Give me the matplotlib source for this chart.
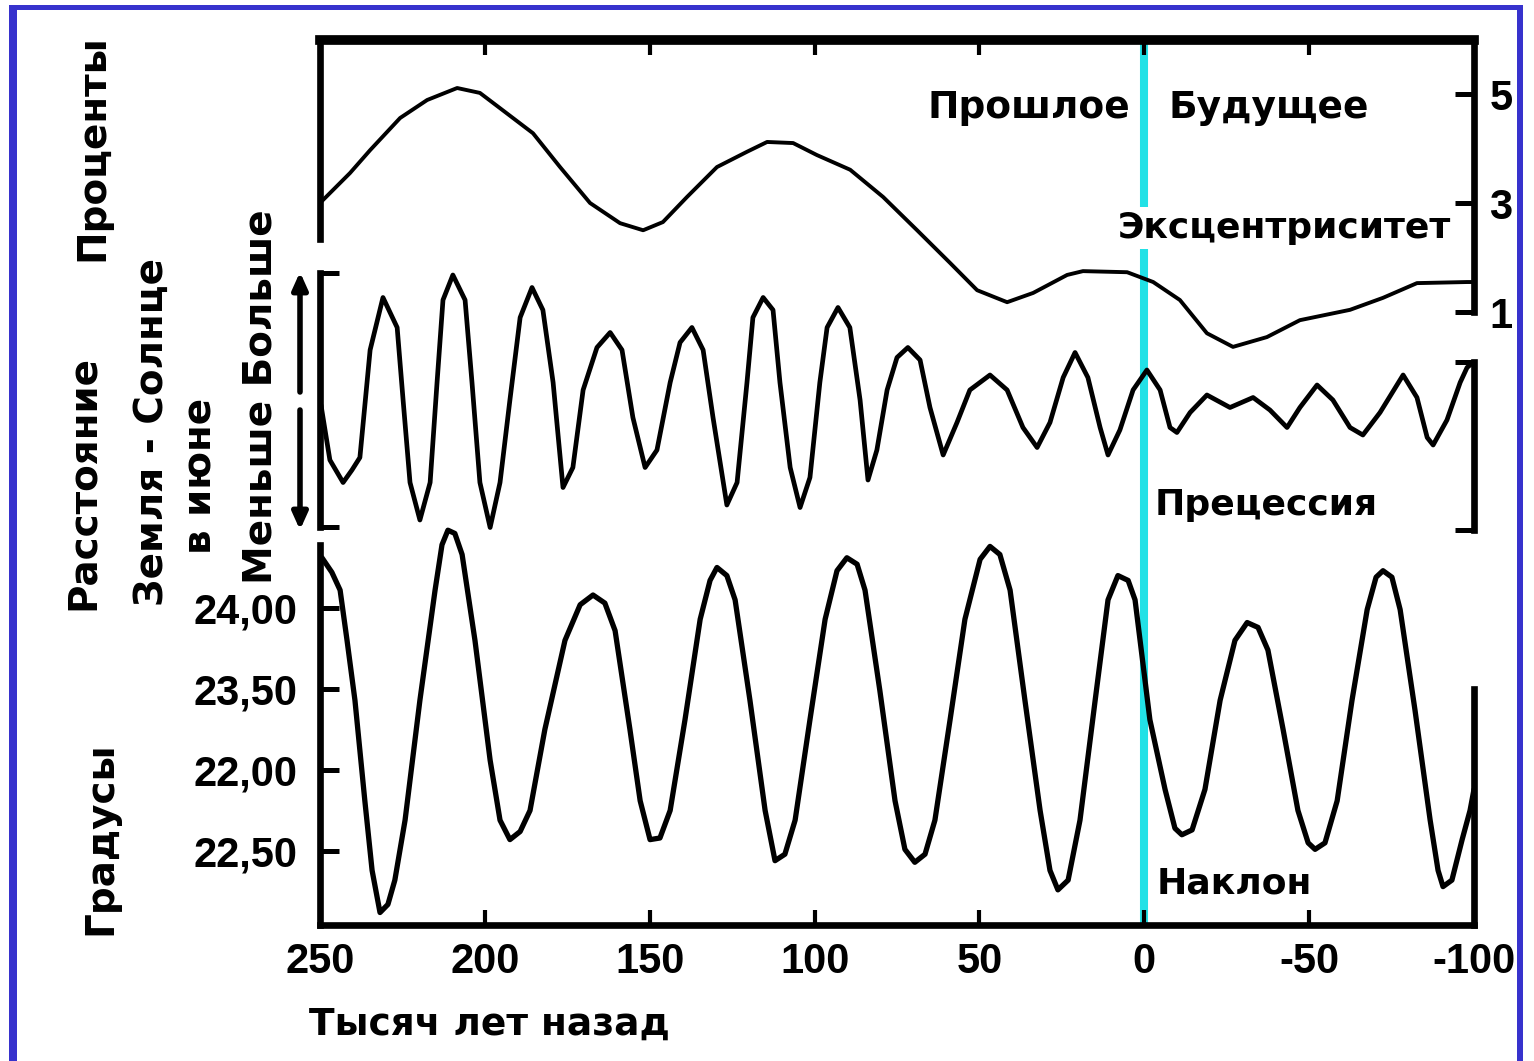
import matplotlib
matplotlib.use("Agg")
import matplotlib.pyplot as plt
from matplotlib.patches import Rectangle

# Milankovitch cycles, thousands of years before present (negative = future)

# Eccentricity, percent
ecc_t = [250, 240.9, 234.8, 225.7, 217.5, 208.4, 201.5, 195.4, 185.4, 177.2, 168.1, 159.0,
         152.0, 146.0, 138.7, 129.6, 120.5, 114.4, 106.5, 99.3, 89.2, 79.2, 68.9, 58.9,
         50.7, 41.6, 33.7, 23.4, 18.6, 5.2, -2.7, -10.8, -19.0, -26.9, -37.2, -47.2,
         -62.4, -72.4, -82.7, -97.9, -100]
ecc_v = [3.0, 3.55, 3.97, 4.56, 4.89, 5.11, 5.02, 4.74, 4.28, 3.66, 3.0, 2.63,
         2.50, 2.65, 3.11, 3.66, 3.94, 4.12, 4.10, 3.88, 3.61, 3.11, 2.50, 1.90,
         1.40, 1.18, 1.35, 1.68, 1.75, 1.73, 1.55, 1.22, 0.61, 0.36, 0.54, 0.85,
         1.04, 1.26, 1.53, 1.55, 1.55]

# Precession index (relative units)
prec_t = [249.7, 247.0, 243.0, 240.3, 237.9, 234.8, 230.9, 226.6, 224.8, 222.7, 219.7, 216.6,
          214.5, 212.7, 209.7, 206.0, 203.9, 201.5, 198.4, 195.4, 192.4, 189.3, 185.7, 182.4,
          179.3, 176.3, 173.3, 170.2, 166.0, 162.0, 158.4, 155.1, 151.4, 147.8, 143.8, 140.8,
          137.2, 133.8, 130.8, 126.6, 123.5, 120.5, 118.7, 115.6, 112.6, 110.5, 107.4, 104.4,
          101.4, 98.4, 96.2, 92.9, 89.3, 86.2, 83.8, 81.1, 78.0, 75.0, 71.7, 68.0,
          65.0, 61.0, 56.8, 52.9, 46.8, 41.6, 36.8, 32.5, 28.6, 24.6, 21.0, 17.1,
          13.4, 11.0, 7.4, 3.4, -0.8, -4.8, -7.8, -9.9, -13.9, -19.0, -26.0, -33.0,
          -38.1, -43.3, -47.2, -52.4, -57.2, -62.4, -66.3, -71.5, -78.5, -82.7, -85.8, -87.6,
          -91.8, -95.8, -97.9, -99.7]
prec_v = [-0.04, -0.48, -0.66, -0.56, -0.46, 0.40, 0.82, 0.58, 0.0, -0.66, -0.96, -0.66,
          0.14, 0.80, 1.0, 0.80, 0.14, -0.66, -1.02, -0.66, 0.0, 0.66, 0.90, 0.72,
          0.14, -0.70, -0.54, 0.08, 0.42, 0.54, 0.40, -0.14, -0.54, -0.40, 0.14, 0.46,
          0.58, 0.40, -0.14, -0.84, -0.66, 0.14, 0.66, 0.82, 0.72, 0.14, -0.54, -0.86,
          -0.62, 0.14, 0.58, 0.74, 0.58, 0.0, -0.64, -0.40, 0.08, 0.34, 0.42, 0.32,
          -0.06, -0.44, -0.18, 0.08, 0.20, 0.08, -0.22, -0.38, -0.18, 0.18, 0.38, 0.18,
          -0.22, -0.44, -0.24, 0.08, 0.24, 0.08, -0.22, -0.26, -0.10, 0.04, -0.06, 0.02,
          -0.08, -0.22, -0.06, 0.12, 0.0, -0.22, -0.28, -0.10, 0.20, 0.02, -0.30, -0.36,
          -0.16, 0.14, 0.26, 0.30]

# Obliquity, degrees
obl_t = [249.4, 246.4, 243.9, 241.8, 239.4, 236.4, 234.2, 231.8, 229.4, 227.3, 224.2, 219.7,
         215.1, 213.0, 211.2, 209.1, 206.9, 203.0, 198.4, 195.4, 192.4, 189.3, 186.3, 181.8,
         175.7, 171.1, 167.2, 163.6, 160.5, 156.0, 152.9, 149.9, 146.9, 143.8, 139.3, 134.7,
         131.7, 129.6, 126.6, 124.1, 119.6, 115.0, 112.0, 109.0, 105.9, 101.4, 96.8, 93.2,
         90.2, 87.1, 84.7, 80.2, 75.6, 72.6, 69.6, 66.5, 63.5, 58.9, 54.4, 49.8,
         46.8, 43.8, 40.7, 36.2, 31.6, 28.6, 26.2, 23.1, 19.5, 14.9, 11.0, 8.0,
         4.9, 2.8, -1.7, -6.3, -9.3, -11.4, -14.5, -18.4, -23.0, -27.5, -31.2, -34.5,
         -37.5, -42.1, -46.6, -49.7, -51.8, -54.8, -58.5, -63.0, -67.6, -70.3, -72.4, -75.1,
         -77.6, -82.1, -86.7, -89.1, -90.6, -93.3, -96.4, -98.8, -100.0]
obl_v = [24.31, 24.22, 24.11, 23.80, 23.43, 22.81, 22.38, 22.12, 22.17, 22.32, 22.69, 23.43,
         24.11, 24.39, 24.48, 24.46, 24.33, 23.80, 23.06, 22.69, 22.57, 22.62, 22.75, 23.25,
         23.80, 24.02, 24.08, 24.03, 23.86, 23.25, 22.81, 22.57, 22.58, 22.75, 23.31, 23.93,
         24.17, 24.25, 24.20, 24.05, 23.43, 22.75, 22.44, 22.48, 22.69, 23.31, 23.93, 24.23,
         24.31, 24.27, 24.11, 23.49, 22.81, 22.51, 22.43, 22.48, 22.69, 23.31, 23.93, 24.30,
         24.38, 24.33, 24.11, 23.43, 22.75, 22.38, 22.26, 22.32, 22.69, 23.43, 24.05, 24.20,
         24.17, 24.05, 23.31, 22.88, 22.64, 22.60, 22.63, 22.88, 23.43, 23.80, 23.91, 23.88,
         23.74, 23.25, 22.75, 22.55, 22.51, 22.55, 22.81, 23.43, 23.99, 24.19, 24.23, 24.19,
         23.99, 23.37, 22.69, 22.38, 22.28, 22.32, 22.57, 22.75, 22.88]

x_ticks = [250, 200, 150, 100, 50, 0, -50, -100]
x_labels = ["250", "200", "150", "100", "50", "0", "-50", "-100"]
ecc_ticks = [5, 3, 1]
ecc_labels = ["5", "3", "1"]
obl_ticks = [24.0, 23.5, 23.0, 22.5]
obl_labels = ["24,00", "23,50", "22,00", "22,50"]

plt.rcParams['font.family'] = ['Liberation Sans', 'DejaVu Sans']
plt.rcParams['font.weight'] = 'bold'

W, H = 1534, 1061
fig = plt.figure(figsize=(W / 100, H / 100), dpi=100)
fig.patch.set_facecolor('white')

L, R, T, B = 320, 1474, 40, 925
rect = [L / W, 1 - B / H, (R - L) / W, (B - T) / H]

def px(x, y):
    return x / W, 1 - y / H

tick_font = dict(family=['Liberation Sans', 'DejaVu Sans'], weight='bold', size=30)
lab_font = ['DejaVu Sans']
line_kw = dict(color='black', solid_joinstyle='round', solid_capstyle='round')

# main axes: x axis, frame top/bottom, the "now" line
ax = fig.add_axes(rect)
ax.set_xlim(250, -100)
ax.set_ylim(0, 1)
ax.set_yticks([])
for s in ['left', 'right']:
    ax.spines[s].set_visible(False)
ax.spines['top'].set_linewidth(7)
ax.spines['bottom'].set_linewidth(4.8)
ax.set_xticks(x_ticks)
ax.set_xticklabels(x_labels, fontdict=tick_font)
ax.tick_params(axis='x', direction='in', top=True, bottom=True, length=10.5, width=3, pad=12)
ax.axvline(0, color='#22E1E6', lw=5.8, zorder=1)


def overlay(ylim):
    a = fig.add_axes(rect, sharex=ax)
    a.set_facecolor('none')
    a.set_ylim(*ylim)
    a.spines['top'].set_visible(False)
    a.spines['bottom'].set_visible(False)
    a.spines['left'].set_linewidth(4.8)
    a.spines['right'].set_linewidth(4.8)
    a.tick_params(axis='x', which='both', bottom=False, top=False, labelbottom=False)
    a.tick_params(axis='y', which='both', direction='in', length=14, width=3.6)
    return a


# eccentricity
ax_e = overlay((-10.248, 5.991))
ax_e.plot(ecc_t, ecc_v, lw=2.8, **line_kw)
ax_e.spines['left'].set_bounds(2.34, 5.991)
ax_e.spines['right'].set_bounds(1.0, 5.991)
ax_e.set_yticks(ecc_ticks)
ax_e.set_yticklabels(ecc_labels, fontdict=tick_font)
ax_e.set_yticks([5], minor=True)
ax_e.tick_params(axis='y', which='major', left=False, right=True, labelleft=False, labelright=True, pad=11)
ax_e.tick_params(axis='y', which='minor', left=True, right=False)

# precession
ax_p = overlay((-4.2, 2.88))
ax_p.plot(prec_t, prec_v, lw=3.4, **line_kw)
ax_p.spines['left'].set_bounds(-1.016, 1.016)
ax_p.spines['right'].set_bounds(-1.04, 0.304)
ax_p.set_yticks([-1.016, 1.016])
ax_p.set_yticks([-1.04, 0.304], minor=True)
ax_p.tick_params(axis='y', which='major', left=True, right=False, labelleft=False)
ax_p.tick_params(axis='y', which='minor', left=False, right=True)

# obliquity
ax_o = overlay((22.043, 27.506))
ax_o.plot(obl_t, obl_v, lw=3.8, **line_kw)
ax_o.spines['left'].set_bounds(22.043, 24.389)
ax_o.spines['right'].set_bounds(22.043, 23.5)
ax_o.set_yticks(obl_ticks)
ax_o.set_yticklabels(obl_labels, fontdict=tick_font)
ax_o.set_yticks([23.5, 23.0], minor=True)
ax_o.tick_params(axis='y', which='major', left=True, right=False, labelleft=True, pad=16)
ax_o.tick_params(axis='y', which='minor', left=False, right=True)

# texts inside the plot
fig.text(*px(1130, 108), "Прошлое", family=lab_font, weight='bold', size=27, ha='right', va='center')
fig.text(*px(1168, 108), "Будущее", family=lab_font, weight='bold', size=27, ha='left', va='center')
fig.text(*px(1284, 228), "Эксцентриситет", family=lab_font, weight='bold', size=26, ha='center', va='center',
         bbox=dict(facecolor='white', edgecolor='none', pad=3))
fig.text(*px(1155, 505), "Прецессия", family=lab_font, weight='bold', size=26, ha='left', va='center')
fig.text(*px(1157, 884), "Наклон", family=lab_font, weight='bold', size=26, ha='left', va='center')

# axis titles on the left
fig.text(*px(92, 148), "Проценты", family=lab_font, weight='bold', size=28, rotation=90, ha='center', va='center')
fig.text(*px(83, 483), "Расстояние", family=lab_font, weight='bold', size=28, rotation=90, ha='center', va='center')
fig.text(*px(152, 432), "Земля - Солнце", family=lab_font, weight='bold', size=28, rotation=90, ha='center', va='center')
fig.text(*px(200, 476), "в июне", family=lab_font, weight='bold', size=28, rotation=90, ha='center', va='center')
fig.text(*px(260, 397), "Меньше Больше", family=lab_font, weight='bold', size=28, rotation=90, ha='center', va='center')
fig.text(*px(100, 838), "Градусы", family=lab_font, weight='bold', size=28, rotation=90, ha='center', va='center')
fig.text(*px(489, 1025), "Тысяч лет назад", family=lab_font, weight='bold', size=27, ha='center', va='center')

# double arrow: closer / farther
arrow = dict(arrowstyle='-|>,head_width=0.45,head_length=1.0', lw=4, color='black', shrinkA=0, shrinkB=0)
ax.annotate("", xy=(300, H - 272), xytext=(300, H - 392), xycoords='figure pixels',
            textcoords='figure pixels', arrowprops=arrow, annotation_clip=False)
ax.annotate("", xy=(300, H - 530), xytext=(300, H - 410), xycoords='figure pixels',
            textcoords='figure pixels', arrowprops=arrow, annotation_clip=False)

# blue slide frame
blue = '#3732CD'
for x0, y0, x1, y1 in [(9, 5, 17, 1061), (9, 5, 1523, 10), (1517, 5, 1523, 1061)]:
    fig.add_artist(Rectangle((x0 / W, 1 - y1 / H), (x1 - x0) / W, (y1 - y0) / H,
                             transform=fig.transFigure, facecolor=blue, edgecolor='none'))

fig.savefig("out.png", dpi=100)
